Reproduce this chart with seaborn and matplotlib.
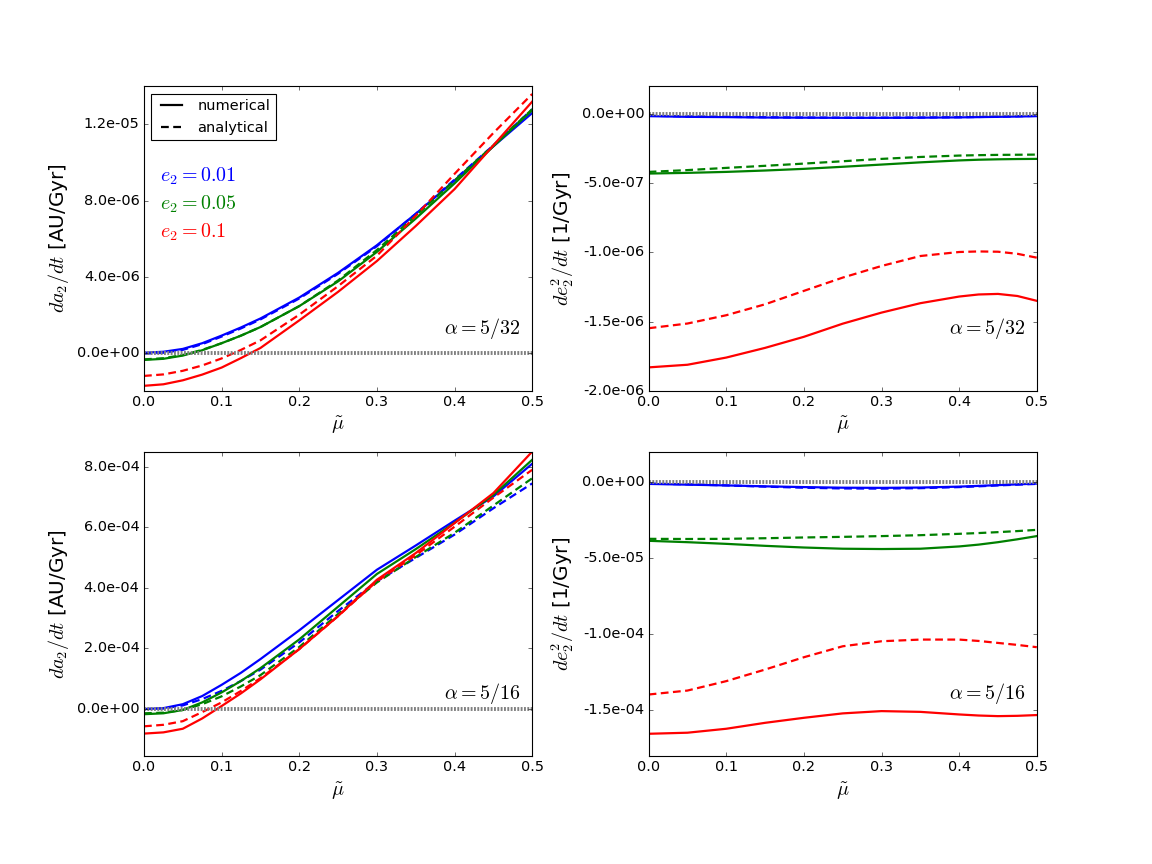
import numpy as np
import pandas as pd
import matplotlib
matplotlib.use('Agg')
import matplotlib.pyplot as plt
from matplotlib.lines import Line2D
from matplotlib.ticker import FormatStrFormatter
import seaborn as sns

plt.style.use('classic')
plt.rcParams['lines.scale_dashes'] = False
plt.rcParams['xtick.labelsize'] = 13
plt.rcParams['ytick.labelsize'] = 13

# left panels are sampled a bit finer near mu = 0 where they bend most
mu_left = [0.0, 0.025, 0.05, 0.075, 0.1, 0.125, 0.15, 0.2, 0.25, 0.3, 0.35, 0.4, 0.45, 0.5]
mu_right = [0.0, 0.05, 0.1, 0.15, 0.2, 0.25, 0.3, 0.35, 0.4, 0.425, 0.45, 0.475, 0.5]
ecc_labels = ['0.01', '0.05', '0.1']
colors = {'0.01': 'b', '0.05': 'g', '0.1': 'r'}

# alpha = 5/32, da2/dt  (units of 1e-6 AU/Gyr)
da_32_num = {
    '0.01': [0.0, 0.05, 0.2, 0.5, 0.9, 1.33, 1.8, 2.9, 4.2, 5.65, 7.3, 9.05, 10.85, 12.6],
    '0.05': [-0.38, -0.32, -0.15, 0.13, 0.5, 0.9, 1.35, 2.45, 3.75, 5.3, 7.05, 8.9, 10.85, 12.75],
    '0.1': [-1.74, -1.66, -1.45, -1.15, -0.78, -0.28, 0.25, 1.7, 3.2, 4.82, 6.66, 8.6, 10.9, 13.2],
}
da_32_ana = {
    '0.01': [-0.05, 0.0, 0.15, 0.45, 0.85, 1.28, 1.75, 2.85, 4.15, 5.6, 7.3, 9.1, 10.9, 12.8],
    '0.05': [-0.35, -0.29, -0.12, 0.15, 0.5, 0.9, 1.35, 2.45, 3.8, 5.4, 7.2, 9.05, 10.9, 12.8],
    '0.1': [-1.22, -1.14, -0.95, -0.67, -0.3, 0.15, 0.65, 2.0, 3.5, 5.1, 7.2, 9.4, 11.55, 13.6],
}
# alpha = 5/32, de2^2/dt  (units of 1e-7 1/Gyr)
de_32_num = {
    '0.01': [-0.15, -0.2, -0.22, -0.25, -0.26, -0.27, -0.27, -0.26, -0.24, -0.22, -0.2, -0.18, -0.15],
    '0.05': [-4.3, -4.25, -4.18, -4.08, -3.96, -3.81, -3.65, -3.49, -3.35, -3.3, -3.27, -3.25, -3.24],
    '0.1': [-18.31, -18.12, -17.6, -16.9, -16.1, -15.15, -14.35, -13.67, -13.19, -13.04, -13.0, -13.15, -13.5],
}
de_32_ana = {
    '0.01': [-0.12, -0.17, -0.2, -0.23, -0.25, -0.26, -0.26, -0.25, -0.23, -0.21, -0.19, -0.16, -0.13],
    '0.05': [-4.18, -4.05, -3.89, -3.74, -3.58, -3.41, -3.24, -3.1, -3.0, -2.97, -2.95, -2.94, -2.93],
    '0.1': [-15.48, -15.14, -14.54, -13.75, -12.78, -11.82, -10.98, -10.26, -9.97, -9.93, -9.95, -10.1, -10.38],
}
# alpha = 5/16, da2/dt  (units of 1e-4 AU/Gyr)
da_16_num = {
    '0.01': [0.0, 0.03, 0.16, 0.43, 0.8, 1.2, 1.65, 2.6, 3.6, 4.6, 5.4, 6.22, 7.02, 8.1],
    '0.05': [-0.17, -0.14, -0.03, 0.22, 0.55, 0.93, 1.35, 2.3, 3.38, 4.46, 5.28, 6.15, 7.07, 8.23],
    '0.1': [-0.81, -0.77, -0.65, -0.31, 0.1, 0.52, 0.98, 1.98, 3.07, 4.27, 5.15, 6.14, 7.13, 8.5],
}
da_16_ana = {
    '0.01': [0.0, 0.02, 0.12, 0.33, 0.6, 0.93, 1.3, 2.2, 3.24, 4.22, 4.99, 5.76, 6.63, 7.45],
    '0.05': [-0.14, -0.12, -0.03, 0.16, 0.42, 0.75, 1.12, 2.05, 3.14, 4.18, 5.02, 5.82, 6.72, 7.62],
    '0.1': [-0.57, -0.52, -0.4, -0.1, 0.22, 0.6, 1.02, 1.98, 3.07, 4.22, 5.08, 6.02, 6.98, 7.9],
}
# alpha = 5/16, de2^2/dt  (units of 1e-5 1/Gyr)
de_16_num = {
    '0.01': [-0.12, -0.17, -0.22, -0.28, -0.33, -0.37, -0.38, -0.36, -0.3, -0.25, -0.2, -0.15, -0.1],
    '0.05': [-3.86, -3.95, -4.06, -4.19, -4.3, -4.38, -4.4, -4.38, -4.23, -4.11, -3.95, -3.76, -3.55],
    '0.1': [-16.54, -16.47, -16.21, -15.82, -15.49, -15.2, -15.05, -15.1, -15.27, -15.34, -15.38, -15.36, -15.31],
}
de_16_ana = {
    '0.01': [-0.1, -0.15, -0.22, -0.3, -0.37, -0.42, -0.43, -0.4, -0.33, -0.28, -0.22, -0.17, -0.12],
    '0.05': [-3.73, -3.74, -3.73, -3.69, -3.64, -3.6, -3.55, -3.49, -3.4, -3.35, -3.29, -3.22, -3.14],
    '0.1': [-13.96, -13.7, -13.08, -12.32, -11.51, -10.79, -10.46, -10.35, -10.35, -10.44, -10.57, -10.7, -10.85],
}


def make_frame(mu, num, ana, scale):
    rows = []
    for method, series in [('numerical', num), ('analytical', ana)]:
        for e in ecc_labels:
            for m, v in zip(mu, series[e]):
                rows.append({'mu': m, 'value': v * scale, 'e2': e, 'method': method})
    return pd.DataFrame(rows)


panels = [
    (make_frame(mu_left, da_32_num, da_32_ana, 1e-6), r'$da_2/dt$ [AU/Gyr]', r'$\alpha=5/32$',
     (-2e-6, 1.4e-5), [0, 4e-6, 8e-6, 1.2e-5]),
    (make_frame(mu_right, de_32_num, de_32_ana, 1e-7), r'$de_2^2/dt$ [1/Gyr]', r'$\alpha=5/32$',
     (-2e-6, 2e-7), [-2e-6, -1.5e-6, -1e-6, -5e-7, 0]),
    (make_frame(mu_left, da_16_num, da_16_ana, 1e-4), r'$da_2/dt$ [AU/Gyr]', r'$\alpha=5/16$',
     (-1.55e-4, 8.5e-4), [0, 2e-4, 4e-4, 6e-4, 8e-4]),
    (make_frame(mu_right, de_16_num, de_16_ana, 1e-5), r'$de_2^2/dt$ [1/Gyr]', r'$\alpha=5/16$',
     (-1.8e-4, 2e-5), [-1.5e-4, -1e-4, -5e-5, 0]),
]

fig, axes = plt.subplots(2, 2, figsize=(14.4, 10.8), dpi=80)
fig.subplots_adjust(left=0.125, right=0.9, bottom=0.125, top=0.9, wspace=0.3, hspace=0.2)

for ax, (df, ylabel, alpha_txt, ylim, yticks) in zip(axes.flat, panels):
    sns.lineplot(data=df, x='mu', y='value', hue='e2', style='method',
                 hue_order=ecc_labels, style_order=['numerical', 'analytical'],
                 palette=colors, dashes={'numerical': '', 'analytical': (7, 4)},
                 linewidth=2, estimator=None, errorbar=None, legend=False, ax=ax)
    ax.axhline(0, color='gray', linewidth=3.5, dashes=(1.7, 1.3))
    ax.set_xlim(0, 0.5)
    ax.set_ylim(*ylim)
    ax.set_yticks(yticks)
    ax.set_xticks([0.0, 0.1, 0.2, 0.3, 0.4, 0.5])
    ax.xaxis.set_major_formatter(FormatStrFormatter('%.1f'))
    ax.yaxis.set_major_formatter(FormatStrFormatter('%.1e'))
    ax.set_xlabel(r'$\tilde{\mu}$', fontsize=18)
    ax.set_ylabel(ylabel, fontsize=18)
    ax.text(0.97, 0.205, alpha_txt, transform=ax.transAxes, ha='right', va='center', fontsize=18)

ax0 = axes[0, 0]
handles = [Line2D([], [], color='k', linewidth=2),
           Line2D([], [], color='k', linewidth=2, dashes=(7, 4))]
ax0.legend(handles, ['numerical', 'analytical'], loc='upper left', fontsize=13)
for e, ypos in zip(ecc_labels, [0.705, 0.612, 0.519]):
    ax0.text(0.04, ypos, r'$e_2=%s$' % e, color=colors[e], transform=ax0.transAxes,
             ha='left', va='center', fontsize=18)

fig.savefig('out.png', dpi=80, facecolor='white')
